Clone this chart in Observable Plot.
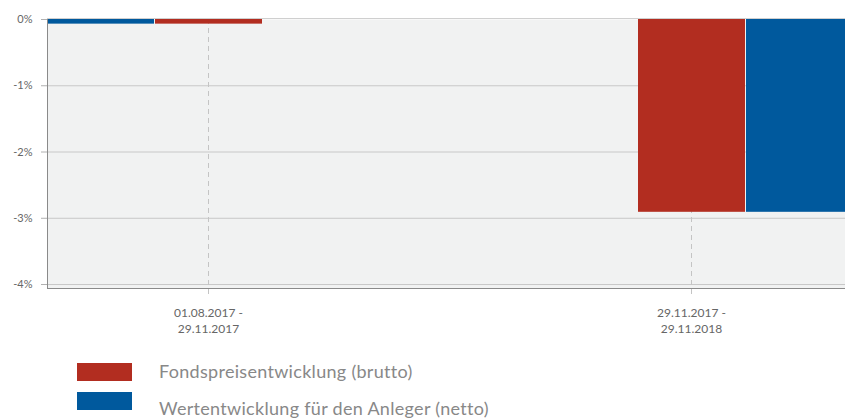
<!DOCTYPE html>
<html><head><meta charset="utf-8">
<script src="https://cdn.jsdelivr.net/npm/d3@7"></script>
<script src="https://cdn.jsdelivr.net/npm/@observablehq/plot@0.6"></script>
<style>
body{margin:0;background:#fff;overflow:hidden;font-family:Lato, sans-serif}
#wrap{position:relative;width:845px;height:419px;overflow:hidden}
#chart svg{display:block}
.sw{position:absolute;left:77px;width:55px;height:18px}
.lb{position:absolute;left:159px;font-size:18px;letter-spacing:0.3px;line-height:22px;color:#888;white-space:nowrap}
</style></head>
<body><div id="wrap"><div id="chart"></div><div id="legend"></div></div>
<script>
const periods = ["01.08.2017 - 29.11.2017", "29.11.2017 - 29.11.2018"];
const brutto = [-0.07, -2.91];
const netto = [-0.07, -2.91];
const seriesNames = ["Fondspreisentwicklung (brutto)", "Wertentwicklung für den Anleger (netto)"];
const seriesColors = ["#b22d20", "#00599d"];
const yTicks = [0, -1, -2, -3, -4];

const rows = periods.map((p, i) => ({period: p, brutto: brutto[i], netto: netto[i]}));

const chart = Plot.plot({
  width: 845, height: 345,
  marginLeft: 47, marginRight: 0, marginTop: 19, marginBottom: 57,
  style: {fontFamily: "Lato, sans-serif", fontSize: "11px", color: "#666", background: "transparent"},
  x: {type: "band", domain: periods, range: [47, 852], paddingInner: 1/3, paddingOuter: 0},
  y: {domain: [-4.06, 0]},
  marks: [
    Plot.frame({fill: "#f1f2f2", stroke: null}),
    Plot.gridY(yTicks.slice(1), {stroke: "#c8c8c8", strokeOpacity: 1}),
    Plot.ruleX(periods, {x: d => d, stroke: "#c4c4c4", strokeDasharray: "5,4", insetBottom: -7}),
    Plot.barY(rows, {filter: d => d.period === periods[0], x: "period", y: "netto", fill: seriesColors[1], insetLeft: 0, insetRight: 215}),
    Plot.barY(rows, {filter: d => d.period === periods[1], x: "period", y: "netto", fill: seriesColors[1], insetLeft: 216, insetRight: 0}),
    Plot.barY(rows, {x: "period", y: "brutto", fill: seriesColors[0], insetLeft: 108, insetRight: 107}),
    Plot.ruleY([0], {stroke: "#cfcfcf", dy: -1}),
    Plot.ruleY([-4.06], {stroke: "#8a8a8a"}),
    Plot.frame({anchor: "left", stroke: "#8a8a8a"}),
    Plot.axisY(yTicks, {tickFormat: d => `${d}%`, tickSize: 6, tickPadding: 9, stroke: "#b0b0b0", fill: "#666", label: null}),
    Plot.axisX({tickSize: 0, tickPadding: 17, fontSize: 12, tickFormat: d => d.replace(" - ", " -\n"), lineHeight: 1.33, fill: "#666", label: null})
  ]
});
document.getElementById("chart").appendChild(chart);

const legend = document.getElementById("legend");
const swTops = [363, 392];
const lbTops = [360, 397];
seriesNames.forEach((name, i) => {
  const sw = document.createElement("div");
  sw.className = "sw"; sw.style.top = swTops[i] + "px"; sw.style.background = seriesColors[i];
  const lb = document.createElement("div");
  lb.className = "lb"; lb.style.top = lbTops[i] + "px"; lb.textContent = name;
  legend.appendChild(sw); legend.appendChild(lb);
});
</script>
</body></html>
